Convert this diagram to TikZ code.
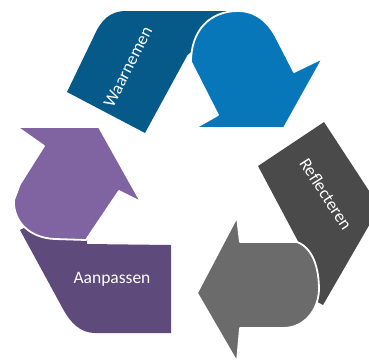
\documentclass[tikz,border=0pt]{standalone}
\usepackage{fontspec}
\setmainfont{Carlito}
\definecolor{dblue}{HTML}{055A8A}
\definecolor{bblue}{HTML}{0877BA}
\definecolor{dgray}{HTML}{4A4A4A}
\definecolor{mgray}{HTML}{6B6B6B}
\definecolor{lpurple}{HTML}{8064A2}
\definecolor{dpurple}{HTML}{5F4A7C}
\begin{document}
\begin{tikzpicture}[x=1pt,y=-1pt,
  arrowpart/.style={draw=white, line width=1.8pt, line join=round},
  lbl/.style={text=white, font=\fontsize{17.5}{20}\selectfont, inner sep=0pt}]
\useasboundingbox (0,0) rectangle (369,360);
\clip (0,0) rectangle (369,360);
% top pair
\fill[dblue] (67,92) -- (94,36) .. controls (101,20) and (110,11) .. (126,11)
  -- (232,11) -- (212,28) -- (196,48) -- (187.5,55) -- (145,133) -- cycle;
\path[arrowpart, fill=bblue] (191,62) .. controls (191,30) and (210,11) .. (238,11)
  .. controls (256,11) and (268,22) .. (276,37) -- (294,72) -- (323,58)
  -- (284,128) -- (195,128) -- (218,115) -- cycle;
% right pair
\fill[dgray] (324,122) -- (375,200) -- (375,215) -- (323,305) -- (305,295)
  -- (300,245) -- (258,166) -- cycle;
\path[arrowpart, fill=mgray] (240,242) -- (297,242) .. controls (313,248) and (319,268) .. (319,290)
  .. controls (318,312) and (303,328) .. (283,328) -- (240,328) -- (237,362)
  -- (197,293) -- (237,217) -- cycle;
% left pair
\fill[dpurple] (20,230) -- (35,222) -- (87,232) -- (87,244) -- (171,245) -- (171,333)
  -- (95,333) .. controls (80,333) and (70,322) .. (63,309) -- cycle;
\path[arrowpart, fill=lpurple] (119,191) -- (86,240) -- (55,239)
  .. controls (30,238) and (13,222) .. (14,200) -- (20,184) -- (44,146)
  -- (17,127) -- (99,127) -- (141,202) -- cycle;
% labels
\node[lbl, rotate=63] (w) at (128,67) {Waarnemen};
\node[lbl, rotate=-57] (r) at (326,194) {Reflecteren};
\node[lbl] (a) at (112,279) {Aanpassen};
\end{tikzpicture}
\end{document}
